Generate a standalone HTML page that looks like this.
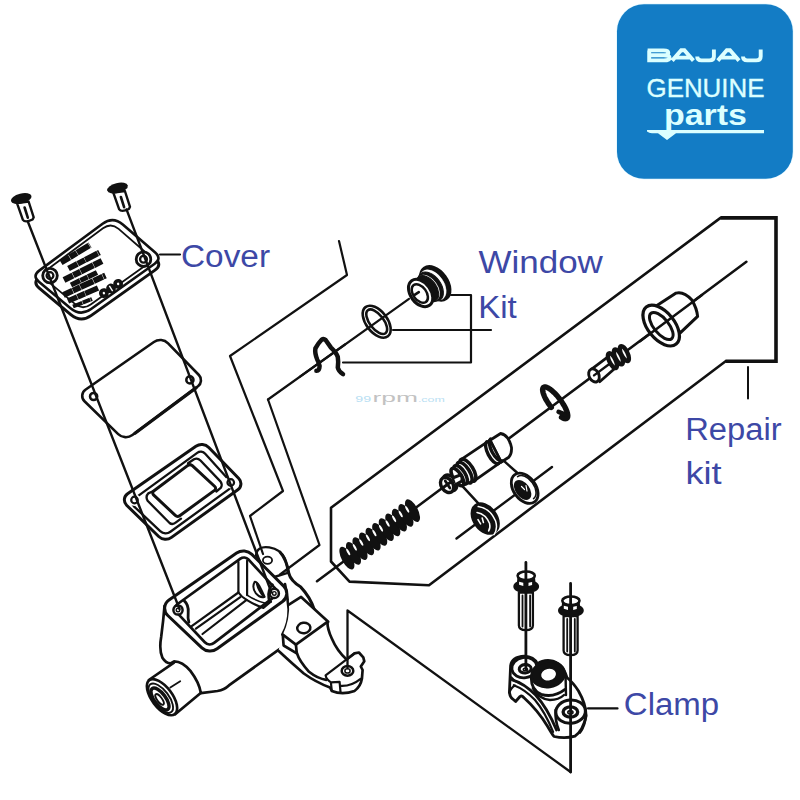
<!DOCTYPE html>
<html><head><meta charset="utf-8"><title>Parts diagram</title>
<style>
html,body{margin:0;padding:0;background:#fff;}
body{width:800px;height:800px;overflow:hidden;font-family:"Liberation Sans",sans-serif;}
svg{display:block;}
.k{stroke:#111;stroke-linecap:round;stroke-linejoin:round;}
.w{fill:#fff;}
.kw{stroke:#fff;stroke-linecap:round;stroke-linejoin:round;}
.b{fill:#111;}
.lbl{font-family:"Liberation Sans",sans-serif;fill:#3d48a6;font-size:31px;}
</style></head><body>
<svg width="800" height="800" viewBox="0 0 800 800" fill="none">
<rect x="0" y="0" width="800" height="800" fill="#ffffff"/>
<g id="logo">
<rect x="616.2" y="3.5" width="177.4" height="176" rx="28" ry="28" fill="#e4f8ff"/>
<rect x="617" y="4.3" width="175.8" height="174.5" rx="27" ry="27" fill="#137cc5"/>
<g fill="#dcffff" font-family="Liberation Sans, sans-serif">
<path d="M647.6,50.4 L663.5,50.4 Q668.3,50.4 668.3,52.9 Q668.3,55.3 663.5,55.3 L650,55.3 M663.8,55.3 Q669.6,55.3 669.6,57.9 Q669.6,60.4 663.8,60.4 L649.2,60.4 L649.2,50.4 M672.2,60.6 L681.2,50.3 L684.4,50.3 L693.4,60.6 M675.8000000000001,57.6 L689.8000000000001,57.6 M697.1999999999999,56.6 Q697.1999999999999,60.4 701.4,60.4 L709.4,60.4 Q713.9,60.4 713.9,56.4 L713.9,49.4 M717.8000000000001,60.6 L726.8000000000001,50.3 L730.0,50.3 L739.0,60.6 M721.4000000000001,57.6 L735.4000000000001,57.6 M743.0,56.6 Q743.0,60.4 747.2,60.4 L756.2,60.4 Q760.7,60.4 760.7,56.4 L760.7,49.4" fill="none" stroke="#dcffff" stroke-width="3.9" stroke-linejoin="miter" stroke-linecap="butt"/>
<text x="646.5" y="96.8" font-size="25.2" textLength="118" lengthAdjust="spacingAndGlyphs" stroke="#dcffff" stroke-width="0.35">GENUINE</text>
<text x="664" y="124.7" font-size="29.5" font-weight="bold" textLength="83" lengthAdjust="spacingAndGlyphs">parts</text>
<path d="M647,130 L764,130 L764,133.3 L676,133.3 L667,140 L658,133.3 L652,133.3 Q649,133.3 647,131.5 Z"/>
</g>

</g>
<g id="labels">
<g class="lbl">
<text x="181" y="266.6" textLength="89" lengthAdjust="spacingAndGlyphs">Cover</text>
<text x="478.4" y="272.8" textLength="124.5" lengthAdjust="spacingAndGlyphs">Window</text>
<text x="478.2" y="317.8" textLength="38.6" lengthAdjust="spacingAndGlyphs">Kit</text>
<text x="685.2" y="439.8" textLength="96.4" lengthAdjust="spacingAndGlyphs">Repair</text>
<text x="685.4" y="483.8" textLength="36.2" lengthAdjust="spacingAndGlyphs">kit</text>
<text x="623.8" y="715.2" textLength="95.4" lengthAdjust="spacingAndGlyphs">Clamp</text>
</g>
<g font-family="Liberation Sans, sans-serif">
<text x="355.3" y="401.5" fill="#b9e0f3" textLength="15.8" lengthAdjust="spacingAndGlyphs" font-size="8.6">99</text>
<text x="372.5" y="401.5" fill="#c2c2c2" textLength="45.4" lengthAdjust="spacingAndGlyphs" font-size="13.5">rpm</text>
<text x="417.9" y="401.5" fill="#b9e0f3" textLength="26.8" lengthAdjust="spacingAndGlyphs" font-size="7">.com</text>
</g>

</g>
<g id="cover">
<path d="M39.2,288.2 Q32.3,282.4 39.5,277.0 L102.9,230.1 Q113.3,222.4 123.1,230.9 L155.5,259.0 Q162.3,264.9 155.0,270.1 L91.4,315.4 Q80.8,322.9 70.8,314.6 Z" class="k" stroke-width="3.0" fill="#fff" />
<path d="M38.9,281.8 Q32.0,276.0 39.2,270.6 L102.6,223.7 Q113.0,216.0 122.8,224.5 L155.2,252.6 Q162.0,258.5 154.7,263.7 L91.1,309.0 Q80.5,316.5 70.5,308.2 Z" class="k" stroke-width="2.6" fill="#fff" />
<path d="M45.5,279.4 Q40.1,274.9 45.7,270.7 L103.0,228.3 Q111.0,222.4 118.6,228.9 L148.6,255.0 Q153.9,259.6 148.2,263.6 L90.7,304.5 Q82.6,310.3 74.9,303.9 Z" class="k" stroke-width="1.8" />
<circle cx="50" cy="275.6" r="7.3" class="k" stroke-width="2.8" fill="#fff"/>
<circle cx="50" cy="275.6" r="3.4" class="k" stroke-width="2.3"/>
<circle cx="143.5" cy="259.2" r="7.3" class="k" stroke-width="2.8" fill="#fff"/>
<circle cx="143.5" cy="259.2" r="3.4" class="k" stroke-width="2.3"/>
<path d="M61,262.5 L90,245" stroke="#111" stroke-width="6.0" stroke-dasharray="10 0.45 8 0.4 14 0.45" fill="none"/>
<path d="M68.5,268.5 L99.5,252.5" stroke="#111" stroke-width="5.8" stroke-dasharray="10 0.45 8 0.4 14 0.45" fill="none"/>
<path d="M64,280 L102,261" stroke="#111" stroke-width="6.2" stroke-dasharray="10 0.45 8 0.4 14 0.45" fill="none"/>
<path d="M71,285 L97,272.5" stroke="#111" stroke-width="5.2" stroke-dasharray="10 0.45 8 0.4 14 0.45" fill="none"/>
<path d="M63.5,295 L105.5,275.5" stroke="#111" stroke-width="6.0" stroke-dasharray="10 0.45 8 0.4 14 0.45" fill="none"/>
<path d="M68,301 L98,288" stroke="#111" stroke-width="5.6" stroke-dasharray="10 0.45 8 0.4 14 0.45" fill="none"/>
<path d="M73,306.5 L92,299" stroke="#111" stroke-width="4.0" stroke-dasharray="10 0.45 8 0.4 14 0.45" fill="none"/>
<g transform="rotate(-33 111 288.5)"><circle cx="102.5" cy="288.5" r="4.9" class="b"/><circle cx="111" cy="288.5" r="4.9" class="b"/><circle cx="119.5" cy="288.5" r="4.9" class="b"/><circle cx="102.5" cy="288.5" r="1.2" fill="#fff"/><circle cx="119.5" cy="288.5" r="1.2" fill="#fff"/><rect x="110.3" y="285.5" width="1.4" height="6" fill="#fff"/></g>
<g transform="translate(21.2 198.5)"><path d="M-4.2,4.6 L1.7,21.4 Q4,24.6 11.4,21 L12.5,18.8 L7.4,3 Z" class="k" stroke-width="2.4" fill="#fff"/><path d="M3.4,9 L6.6,19.2" class="k" stroke-width="2.6"/><ellipse cx="0" cy="0" rx="10.6" ry="4.9" transform="rotate(-14)" class="b"/></g>
<g transform="translate(117.5 188)"><path d="M-4.2,4.6 L1.7,21.4 Q4,24.6 11.4,21 L12.5,18.8 L7.4,3 Z" class="k" stroke-width="2.4" fill="#fff"/><path d="M3.4,9 L6.6,19.2" class="k" stroke-width="2.6"/><ellipse cx="0" cy="0" rx="10.6" ry="4.9" transform="rotate(-14)" class="b"/></g>
</g>
<g id="gasket">
<path d="M84.5,401.3 A7.5,7.5 0 0 1 85.4,389.8 L153.9,342.0 A11.0,11.0 0 0 1 168.1,343.3 L198.9,375.0 A7.5,7.5 0 0 1 198.0,386.2 L132.4,435.0 A11.0,11.0 0 0 1 118.2,434.1 Z" class="k" stroke-width="2.6" fill="#fff" />
<path d="M196,387.9 L135,433.2" class="k" stroke-width="3.3" />
<circle cx="93.6" cy="396.5" r="3.6" class="k" stroke-width="2.5" fill="#fff"/>
<circle cx="189.9" cy="379.9" r="3.6" class="k" stroke-width="2.5" fill="#fff"/>
</g>
<g id="diaphragm">
<path d="M126.6,505.2 A7.5,7.5 0 0 1 127.6,493.7 L195.9,446.2 A10.0,10.0 0 0 1 208.8,447.5 L238.8,478.5 A7.5,7.5 0 0 1 237.8,489.8 L171.5,537.4 A10.0,10.0 0 0 1 158.7,536.5 Z" class="k" stroke-width="3.0" fill="#fff" />
<path d="M133.9,506.3 A5.0,5.0 0 0 1 134.4,498.6 L197.2,452.9 A6.0,6.0 0 0 1 205.2,453.7 L230.3,481.5 A5.0,5.0 0 0 1 229.5,488.9 L170.4,531.7 A8.0,8.0 0 0 1 160.2,531.1 Z" class="k" stroke-width="2.3" />
<path d="M188,463.3 L194,459.2 Q197.5,457.6 200.5,460.5 L220.6,481.6 Q222.6,484.4 221,487.6 L216.3,491.5" class="k" stroke-width="2.3" />
<path d="M153,491.2 L148.3,493.4 Q145.2,496.5 147.6,500.8 L169.6,523 Q172.5,525.4 176.3,522.2 L181,518.6" class="k" stroke-width="2.3" />
<path d="M153.5,494.8 A2.5,2.5 0 0 1 153.7,491.0 L187.9,465.4 A3.5,3.5 0 0 1 192.3,465.7 L214.8,486.5 A2.5,2.5 0 0 1 214.5,490.4 L179.7,515.7 A3.5,3.5 0 0 1 175.3,515.4 Z" class="k" stroke-width="3.0" fill="#fff" />
<circle cx="134.5" cy="500" r="6" class="w" stroke="none"/>
<circle cx="134.5" cy="500" r="3.3" class="k" stroke-width="2.2" fill="#fff"/>
<circle cx="230.75" cy="482.5" r="6" class="w" stroke="none"/>
<circle cx="230.75" cy="482.5" r="3.3" class="k" stroke-width="2.2" fill="#fff"/>
</g>
<g id="body">
<path d="M256.1 555.3 Q257.0 545.6 269.3 547.4 Q280.6 549.1 285.0 558.8 Q287.6 565.8 287.6 572.8 L271.0 578.0 Z" class="k" stroke-width="2.4" fill="#fff" />
<ellipse cx="267.5" cy="560.2" rx="4.6" ry="3.6" class="k" stroke-width="1.8" fill="#fff"/>
<path d="M280.1 552.1 Q287.1 560.5 288.9 573.6 Q290.6 580.6 300.8 587.1 Q310.4 597.3 314.4 609.9" class="k" stroke-width="3.0" />
<path d="M164.5 606.1 Q163.3 621.0 161.2 636.8 Q158.9 649.9 162.4 657.8 Q165.9 663.4 170.6 663.4 L174.1 661.3 Q182.5 661.3 190.4 670.9 Q199.1 682.3 200.9 693.1 L217.5 691.0 Q224.5 689.6 228.9 685.4 L284.0 645.9 L288.4 631.5 L284.0 603.5 L252.5 565.0 L200.0 556.2 Z" fill="#fff" stroke="none"/>
<path d="M164.5 606.1 Q163.3 621.0 161.2 636.8 Q158.9 649.9 162.4 657.8 Q165.9 663.4 170.6 663.4 L174.1 661.3 Q182.5 661.3 190.4 670.9 Q199.1 682.3 200.9 693.1 L217.5 691.0 Q224.5 689.6 228.9 685.4 L283.7 646.2" class="k" stroke-width="2.7" />
<path d="M285.0 584.1 Q287.6 595.5 288.7 609.5 Q288.9 623.5 282.4 634.4" class="k" stroke-width="2.7" />
<path d="M148.8,680 L174,662.6 M175.2,714.2 L201,692.8" class="k" stroke-width="2.7" />
<ellipse cx="162" cy="697.2" rx="21.2" ry="10.2" transform="rotate(53 162 697.2)" class="k" stroke-width="2.7" fill="#fff"/>
<ellipse cx="160.8" cy="698.2" rx="17.4" ry="8" transform="rotate(53 160.8 698.2)" class="k" stroke-width="1.9"/>
<ellipse cx="160" cy="699" rx="13" ry="5.6" transform="rotate(53 160 699)" class="k" stroke-width="3.4"/>
<ellipse cx="159.6" cy="699.4" rx="6.4" ry="2.4" transform="rotate(53 159.6 699.4)" class="k" stroke-width="1.8"/>
<path d="M170.3 687.5 L180.2 681.2" class="k" stroke-width="1.8" />
<path d="M167.8,615.5 A10.0,10.0 0 0 1 169.0,600.0 L236.6,553.1 A12.0,12.0 0 0 1 251.9,554.4 L283.9,586.4 A10.0,10.0 0 0 1 282.6,601.5 L217.1,648.8 A12.0,12.0 0 0 1 201.9,647.8 Z" class="k" stroke-width="3.0" fill="#fff" />
<path d="M176.2,611.9 A5.0,5.0 0 0 1 176.9,604.5 L240.4,558.7 A6.0,6.0 0 0 1 248.4,559.4 L275.6,588.9 A5.0,5.0 0 0 1 274.9,596.3 L214.1,642.9 A7.0,7.0 0 0 1 204.8,642.2 Z" class="k" stroke-width="2.7" fill="#fff" />
<path d="M238.4 561.9 L238.4 592.5 M247.1 560.7 L247.1 595.1" class="k" stroke-width="2.2" />
<path d="M238.4 592.5 L191.7 626.1 M240.3 597.1 L195.9 628.7 M246.6 599.9 L202.5 634.0" class="k" stroke-width="2.2" />
<path d="M238.4 592.5 Q241.0 596.4 246.6 599.9 Q255.0 605.1 263.4 607.9 L270.8 601.6" class="k" stroke-width="2.2" />
<path d="M247.1 595.1 Q255.0 600.4 264.6 603.0" class="k" stroke-width="1.6" />
<path d="M254.7 581.7 Q251.5 587.3 255.9 593.4 Q260.3 598.6 264.6 596.9 Q262.0 590.8 259.4 585.9 Q257.1 581.7 254.7 581.7 Z" class="k" stroke-width="2.0" fill="#fff" />
<path d="M257.1 583.8 Q258.9 590.8 263.8 596.4" class="k" stroke-width="2.6" />
<path d="M184.3 600.9 Q188.9 605.1 188.2 612.6 Q187.6 618.8 188.9 622.3" class="k" stroke-width="2.8" />
<path d="M272.5 584.6 Q267.6 589.9 268.7 597.8 Q269.0 601.3 270.8 601.6" class="k" stroke-width="2.6" />
<circle cx="178.0" cy="610.0" r="4.6" class="k" stroke-width="2.5" fill="#fff"/>
<circle cx="178.0" cy="610.0" r="1.8" class="k" stroke-width="1.4"/>
<circle cx="274.3" cy="593.4" r="4.6" class="k" stroke-width="2.5" fill="#fff"/>
<circle cx="274.3" cy="593.4" r="1.8" class="k" stroke-width="1.4"/>
<path d="M278.4 650.8 Q291.5 663.0 303.8 673.5 Q316.0 682.3 330.0 687.5 L331.8 691.0 Q342.3 695.4 354.5 691.0 Q360.6 686.6 361.9 678.8 L362.6 670.0 L360.8 666.5 L364.3 661.3 L363.3 657.4 L358.9 652.5 L354.5 653.4 L346.6 659.5 Q337.0 650.8 331.8 638.5 Q327.4 628.9 327.4 621.9 L295.9 644.6 L282.8 635.0 Z" fill="#fff" stroke="none"/>
<path d="M278.4 650.8 Q291.5 663.0 303.8 673.5 Q316.0 682.3 330.0 687.5 L331.8 691.0 Q342.3 695.4 354.5 691.0 Q360.6 686.6 361.9 678.8 L362.6 670.0 L360.8 666.5 L364.3 661.3 L363.3 657.4 L358.9 652.5 L354.5 653.4 L346.6 659.5 Q337.0 650.8 331.8 638.5 Q327.4 628.9 327.4 621.9" class="k" stroke-width="2.7" />
<path d="M288.9 600.0 Q289.8 610.5 288.0 619.3 Q286.3 628.0 282.8 634.7 L295.9 644.6 L327.4 621.9 L300.3 596.5 Z" fill="#fff" stroke="none"/>
<path d="M282.8 634.7 L295.9 644.6 L327.4 621.9" class="k" stroke-width="2.7" />
<path d="M288.9 604.6 L301.1 596.9 L328.2 621.8" class="k" stroke-width="2.7" />
<ellipse cx="303.8" cy="628.0" rx="6.6" ry="5.2" transform="rotate(-8 303.8 628.0)" class="k" stroke-width="2.5" fill="#fff"/>
<path d="M282.8 635.0 L283.6 645.5 L296.8 653.4 L295.9 644.6" class="k" stroke-width="2.7" />
<path d="M296.8 652.9 Q299.4 661.3 309.0 671.8 Q317.8 678.8 326.2 679.8" class="k" stroke-width="2.7" />
<path d="M325.6 675.3 L354.5 653.4 M325.6 675.3 Q326.2 679.1 330.9 682.3 L339.6 681.9 L340.5 691.9 M330.9 682.3 L331.8 691.0 M340.2 685.8 Q351.0 686.6 360.6 678.8" class="k" stroke-width="2.2" />
<ellipse cx="347.5" cy="670.9" rx="5.8" ry="4.8" class="k" stroke-width="2.5" fill="#fff"/>
<ellipse cx="347.5" cy="670.9" rx="2.6" ry="2.1" class="k" stroke-width="1.5"/>
</g>
<g id="lines">
<g class="k" stroke-width="2.2">
<!-- leader lines -->
<path d="M160,254.5 L180,254.5"/>
<path d="M588,708.4 L617.5,708.4"/>
<path d="M748,367 L748,398.5" stroke-width="2"/>
<!-- window kit bracket -->
<path d="M451,295 L471,295 L471,362.5 L343,362.5"/>
<path d="M393,330 L491,330"/>
<!-- repair kit polygon -->
<path d="M720.5,217.9 L331,507.7 L331,561.5 L349.5,581.6 L429,585.2 L725.6,361.2" stroke-width="2.6"/>
<path d="M720.5,217.9 L776,217.9 L776,361.2 L725.6,361.2" stroke-width="3.6" stroke-linecap="butt" stroke-linejoin="miter"/>
<!-- repair kit axis -->
<path d="M317,581.2 L746.4,261.8" stroke-width="2.5"/>
<!-- secondary axis -->
<path d="M456.5,538.5 L552,467" stroke-width="2.4"/>
<!-- window kit axis B -->
<path d="M268,399.5 L319.5,545 L280,574.5" />
<!-- line A -->
<path d="M339,241 L347,275 L230,356 L283,491 L250,516 L263,554"/>
<!-- long lines -->
<path d="M28,222 L179.5,609" stroke-width="2.4"/>
<path d="M126.5,209.4 L271.5,592.5" stroke-width="2.4"/>
<!-- clamp callout -->
<path d="M347.5,668 L347.5,610.5 L570.6,772" stroke-width="2.3"/>

</g>

</g>
<g id="windowkit">
<ellipse cx="435.2" cy="283.4" rx="19.3" ry="12.6" transform="rotate(54 435.2 283.4)" class="k" stroke-width="2" fill="#111" />
<ellipse cx="432.9" cy="285.0" rx="17.0" ry="10.8" transform="rotate(54 432.9 285.0)" class="kw" stroke-width="0.5" fill="#fff" />
<ellipse cx="430.6" cy="286.6" rx="16.4" ry="10.4" transform="rotate(54 430.6 286.6)" class="k" stroke-width="1.0" fill="#111" />
<ellipse cx="428.4" cy="288.0" rx="14.6" ry="9.0" transform="rotate(54 428.4 288.0)" class="kw" stroke-width="0.5" fill="#fff" />
<ellipse cx="427.2" cy="288.8" rx="14.8" ry="9.4" transform="rotate(54 427.2 288.8)" class="k" stroke-width="1.0" fill="#111" />
<ellipse cx="420.6" cy="293.0" rx="15.2" ry="10.2" transform="rotate(54 420.6 293.0)" class="k" stroke-width="3.0" fill="#fff" />
<ellipse cx="419.8" cy="293.5" rx="10.4" ry="6.6" transform="rotate(54 419.8 293.5)" class="k" stroke-width="2.5" fill="#fff" />
<path d="M414.6,294.8 L418.8,292.2" class="k" stroke-width="2.6" />
<ellipse cx="376.7" cy="321.7" rx="18.4" ry="10.6" transform="rotate(52.5 376.7 321.7)" class="k" stroke-width="2.6" fill="#fff" />
<ellipse cx="376.7" cy="321.7" rx="14.5" ry="7.0" transform="rotate(52.5 376.7 321.7)" class="k" stroke-width="2.6" fill="#fff" />
<path d="M409,298.8 L268,399.5" class="k" stroke-width="2.2" />
<path d="M316.4,370.8 Q319.4,371 319.6,366 Q318.6,362 317.2,359.5 Q314.6,353 315.4,348.4 Q318,343.5 321.6,339.8 Q323.6,338.2 325.6,340 L331,347.6 Q336.6,353 337.8,357 Q338.6,362 337.8,367.6 Q338.6,371.4 343,374.2" class="k" stroke-width="4.5" />
<path d="M300,376.65 L345,344.5" class="k" stroke-width="2.2" />
</g>
<g id="repairkit">
<ellipse cx="346.9" cy="558.1" rx="12.6" ry="5.3" transform="rotate(62 346.9 558.1)" fill="#111"/>
<ellipse cx="353.5" cy="553.4" rx="12.6" ry="5.3" transform="rotate(62 353.5 553.4)" fill="#111"/>
<ellipse cx="360.0" cy="548.6" rx="12.6" ry="5.3" transform="rotate(62 360.0 548.6)" fill="#111"/>
<ellipse cx="366.6" cy="543.9" rx="12.6" ry="5.3" transform="rotate(62 366.6 543.9)" fill="#111"/>
<ellipse cx="373.1" cy="539.1" rx="12.6" ry="5.3" transform="rotate(62 373.1 539.1)" fill="#111"/>
<ellipse cx="379.7" cy="534.4" rx="12.6" ry="5.3" transform="rotate(62 379.7 534.4)" fill="#111"/>
<ellipse cx="386.3" cy="529.6" rx="12.6" ry="5.3" transform="rotate(62 386.3 529.6)" fill="#111"/>
<ellipse cx="392.8" cy="524.9" rx="12.6" ry="5.3" transform="rotate(62 392.8 524.9)" fill="#111"/>
<ellipse cx="399.4" cy="520.1" rx="12.6" ry="5.3" transform="rotate(62 399.4 520.1)" fill="#111"/>
<ellipse cx="405.9" cy="515.4" rx="12.6" ry="5.3" transform="rotate(62 405.9 515.4)" fill="#111"/>
<ellipse cx="412.5" cy="510.6" rx="12.6" ry="5.3" transform="rotate(62 412.5 510.6)" fill="#111"/>
<ellipse cx="348.2" cy="552.0" rx="3.7" ry="1.15" transform="rotate(62 348.2 552.0)" fill="#fff"/>
<ellipse cx="354.8" cy="547.3" rx="3.7" ry="1.15" transform="rotate(62 354.8 547.3)" fill="#fff"/>
<ellipse cx="361.3" cy="542.5" rx="3.7" ry="1.15" transform="rotate(62 361.3 542.5)" fill="#fff"/>
<ellipse cx="367.9" cy="537.8" rx="3.7" ry="1.15" transform="rotate(62 367.9 537.8)" fill="#fff"/>
<ellipse cx="374.4" cy="533.0" rx="3.7" ry="1.15" transform="rotate(62 374.4 533.0)" fill="#fff"/>
<ellipse cx="381.0" cy="528.3" rx="3.7" ry="1.15" transform="rotate(62 381.0 528.3)" fill="#fff"/>
<ellipse cx="387.6" cy="523.5" rx="3.7" ry="1.15" transform="rotate(62 387.6 523.5)" fill="#fff"/>
<ellipse cx="394.1" cy="518.8" rx="3.7" ry="1.15" transform="rotate(62 394.1 518.8)" fill="#fff"/>
<ellipse cx="400.7" cy="514.0" rx="3.7" ry="1.15" transform="rotate(62 400.7 514.0)" fill="#fff"/>
<ellipse cx="407.2" cy="509.3" rx="3.7" ry="1.15" transform="rotate(62 407.2 509.3)" fill="#fff"/>
<ellipse cx="449.9" cy="482.9" rx="8.6" ry="6.0" transform="rotate(56 449.9 482.9)" class="k" stroke-width="3.4" fill="#fff" />
<ellipse cx="447.1" cy="485.0" rx="8.2" ry="5.8" transform="rotate(56 447.1 485.0)" class="k" stroke-width="3.4" fill="#fff" />
<path d="M443.9,487.0 L450.9,482.0 M445.3,481.0 L449.9,488.0" class="k" stroke-width="2.8" />
<path d="M453.8 478.1 L461.9 472.5 L465.6 479.4 L458.1 485.0 Z" class="k" stroke-width="2.4" fill="#fff" />
<path d="M490.0 440.2 L500.6 433.5 Q508.8 435.0 511.5 447.5 Q511.9 453.8 508.8 457.2 L501.0 462.2 Z" class="k" stroke-width="2.8" fill="#fff" />
<path d="M460.6 459.8 L490.0 440.2 L501.2 461.9 L475.2 480.2 Z" class="k" stroke-width="2.8" fill="#fff" />
<path d="M490.6,439.1 A12.4,5.2 62 0 0 502.2,460.9" class="k" stroke-width="3.4"/>
<path d="M486.8,441.8 A12.4,5.2 62 0 0 498.4,463.6" class="k" stroke-width="3.4"/>
<ellipse cx="467.8" cy="470.2" rx="12.6" ry="5.4" transform="rotate(58 467.8 470.2)" class="k" stroke-width="3.6" fill="#fff" />
<ellipse cx="464.6" cy="472.6" rx="11.8" ry="5.0" transform="rotate(58 464.6 472.6)" class="k" stroke-width="3.6" fill="#fff" />
<ellipse cx="460.6" cy="474.8" rx="10.6" ry="4.6" transform="rotate(58 460.6 474.8)" class="k" stroke-width="3.6" fill="#fff" />
<ellipse cx="457.4" cy="477.0" rx="10.0" ry="4.2" transform="rotate(58 457.4 477.0)" class="k" stroke-width="3.6" fill="#fff" />
<path d="M453.8 477.5 L460.6 474.8 Q462.8 476.9 461.9 481.0 L456.2 484.4" class="k" stroke-width="3.0" fill="#fff" />
<path d="M463.1,486.9 L478.8,503.8 M505,461.9 L516.9,472.5" class="k" stroke-width="2.5" />
<ellipse cx="524.7" cy="488.3" rx="16.8" ry="11.2" transform="rotate(54 524.7 488.3)" class="k" stroke-width="2.8" fill="#fff" />
<ellipse cx="522.6" cy="489.9" rx="10.2" ry="6.0" transform="rotate(54 522.6 489.9)" class="k" stroke-width="2.0" fill="#111" />
<path d="M517.6,476.6 A13.6,8.4 54 0 1 533.6,498.6" class="k" stroke-width="1.6"/>
<path d="M521.5,486.5 L524.5,489.5 M526,485.5 L527,491" class="kw" stroke-width="1.2" />
<ellipse cx="485.2" cy="518.6" rx="16.6" ry="11.4" transform="rotate(54 485.2 518.6)" class="k" stroke-width="2.4" fill="#111" />
<path d="M478.2,506.6 Q490,508 495.6,521 Q498,529 494,534.6" class="kw" stroke-width="1.5"/>
<path d="M477,512.4 Q486,514 489.6,523.6 Q490.6,528 488.6,531" class="kw" stroke-width="1.5"/>
<path d="M478,519.6 L480.6,523.8 M482.2,518 L483.4,522.4" class="kw" stroke-width="1.6" />
<path d="M551.3,407.4 L550.1,405.8 L548.9,404.2 L547.8,402.5 L546.8,400.8 L545.8,399.2 L545.0,397.6 L544.3,396.1 L543.7,394.6 L543.2,393.2 L542.9,391.9 L542.7,390.8 L542.6,389.8 L542.7,388.9 L542.9,388.2 L543.2,387.6 L543.7,387.2 L544.3,387.0 L545.0,386.9 L545.8,387.0 L546.8,387.3 L547.8,387.8 L548.9,388.4 L550.1,389.2 L551.3,390.1 L552.6,391.2 L553.9,392.4 L555.2,393.7 L556.5,395.1 L557.8,396.6 L559.1,398.2 L560.3,399.8 L561.5,401.4 L562.6,403.1 L563.6,404.8 L564.6,406.4 L565.4,408.0 L566.1,409.5 L566.7,411.0 L567.2,412.4 L567.5,413.7 L567.7,414.8 L567.8,415.8 L567.7,416.7 L567.5,417.4 L567.2,418.0 L566.7,418.4 L566.1,418.6 L565.4,418.7 L564.6,418.6 L563.6,418.3 L562.6,417.8 L561.5,417.2" class="k" stroke-width="5.4" />
<path d="M564.2,414.2 L558.6,411.8" class="k" stroke-width="4.6" />
<path d="M591.3 369.4 L607.9 356.9 L615.3 368.0 L599.7 381.7 Z" class="k" stroke-width="2.8" fill="#fff" />
<ellipse cx="594.0" cy="375.4" rx="6.9" ry="4.9" transform="rotate(64 594.0 375.4)" class="k" stroke-width="2.9" fill="#fff" />
<path d="M594.0 375.4 L610.0 363.5" class="k" stroke-width="2.4" />
<ellipse cx="612.4" cy="360.7" rx="8.2" ry="3.1" transform="rotate(64 612.4 360.7)" class="k" stroke-width="4.3" fill="#fff" />
<ellipse cx="618.4" cy="356.9" rx="8.2" ry="3.1" transform="rotate(64 618.4 356.9)" class="k" stroke-width="4.3" fill="#fff" />
<ellipse cx="624.4" cy="353.6" rx="8.2" ry="3.1" transform="rotate(64 624.4 353.6)" class="k" stroke-width="4.3" fill="#fff" />
<path d="M656.9 305.5 L676.1 293.1 Q684.0 291.2 691.9 300.1 Q696.7 308.0 697.6 316.3 L680.5 332.7 Z" class="k" stroke-width="3.0" fill="#fff" />
<ellipse cx="661.2" cy="325.6" rx="23.8" ry="13.4" transform="rotate(51 661.2 325.6)" class="k" stroke-width="3.2" fill="#fff" />
<ellipse cx="661.3" cy="326.0" rx="16.4" ry="7.4" transform="rotate(51 661.3 326.0)" class="k" stroke-width="3.0" fill="#fff" />
<path d="M640,341.2 L702,295" class="k" stroke-width="2.5" />
</g>
<g id="clamp">
<path d="M510.6 665.6 Q511.9 656.9 524.4 656.2 Q533.8 656.5 537.5 663.8 Q542.5 660.0 550.0 660.6 Q562.5 661.9 566.9 677.5 Q573.1 682.5 578.5 691.0 Q586.5 705.0 586.0 716.5 Q583.1 730.2 575.0 736.2 Q565.0 739.0 554.0 736.5 Q551.9 733.8 547.5 726.2 Q537.5 710.0 524.0 697.8 Q521.9 695.0 520.0 696.5 L515.6 701.5 L512.5 698.8 Q510.0 696.9 509.4 692.5 Z" class="k" stroke-width="2.8" fill="#fff" />
<path d="M512.2 679.8 Q523.8 683.1 535.6 695.0 Q547.5 708.1 556.5 730.0" class="k" stroke-width="2.8" />
<path d="M513.8 685.2 Q525.0 689.4 535.0 700.0 Q545.0 711.9 553.1 731.9" class="k" stroke-width="2.2" />
<path d="M511.5 677.5 Q513.8 681.2 518.8 682.5 M509.4 692.5 Q511.2 687.5 515.0 685.6" class="k" stroke-width="2.2" />
<path d="M531.2 677.5 Q531.2 690.0 541.2 694.4 Q553.8 698.1 565.0 689.4" class="k" stroke-width="2.8" />
<path d="M532.8 688.1 Q537.5 698.8 550.0 700.0 Q558.8 700.0 564.0 695.0" class="k" stroke-width="2.4" />
<path d="M565.6 677.5 L566.0 695.0" class="k" stroke-width="2.4" />
<ellipse cx="524.4" cy="667.6" rx="12.6" ry="10.2" transform="rotate(-8 524.4 667.6)" class="k" stroke-width="2.8" fill="#fff" />
<ellipse cx="525.2" cy="668.8" rx="6.0" ry="4.2" transform="rotate(-5 525.2 668.8)" class="k" stroke-width="3.0" fill="#fff" />
<ellipse cx="525.4" cy="669.4" rx="2.2" ry="1.3" transform="rotate(0 525.4 669.4)" class="k" stroke-width="1.4" fill="#fff" />
<ellipse cx="548.1" cy="674.4" rx="16.6" ry="12.8" transform="rotate(-8 548.1 674.4)" class="k" stroke-width="2.4" fill="#111" />
<ellipse cx="548.6" cy="674.6" rx="8.2" ry="6.6" transform="rotate(-12 548.6 674.6)" class="k" stroke-width="1.5" fill="#fff" />
<path d="M555.6 710.0 Q555.0 721.2 558.8 730.0 M586.0 715.0 Q585.0 726.2 580.0 732.5" class="k" stroke-width="2.6" />
<ellipse cx="570.6" cy="711.6" rx="14.8" ry="11.6" transform="rotate(-5 570.6 711.6)" class="k" stroke-width="3.0" fill="#fff" />
<ellipse cx="570.4" cy="712" rx="7.3" ry="5.2" transform="rotate(0 570.4 712)" class="k" stroke-width="3.3" fill="#fff" />
<ellipse cx="570.4" cy="712.3" rx="2.6" ry="1.7" transform="rotate(0 570.4 712.3)" class="k" stroke-width="1.6" fill="#fff" />
<path d="M518.9,592.5 L518.9,625.5 Q518.9,630.1 525.9,630.1 Q532.9,630.1 532.9,625.5 L532.9,592.5 Z" class="k" stroke-width="2.3" fill="#fff" />
<path d="M522.5,595.5 L522.5,626.5 M530.1,595.5 L530.1,626.5" class="k" stroke-width="1.8" />
<ellipse cx="526.1999999999999" cy="586.4" rx="11.9" ry="5.8" transform="rotate(0 526.1999999999999 586.4)" class="k" stroke-width="2.0" fill="#111" />
<path d="M516.9,583.4 L517.5,575.8 L534.9,575.8 L535.5,583.4 Z" fill="#111"/>
<path d="M519.1,581.8 L523.3,582.8 L523.3,586.0 L519.1,584.8 Z" fill="#fff"/>
<path d="M528.5,582.8 L532.1,582.0 L532.1,585.0 L528.5,586.0 Z" fill="#fff"/>
<ellipse cx="526.1999999999999" cy="575.8" rx="8.6" ry="4.3" transform="rotate(0 526.1999999999999 575.8)" class="k" stroke-width="2.6" fill="#fff" />
<path d="M563.6,616 L563.6,650.5 Q563.6,655.1 570.6,655.1 Q577.6,655.1 577.6,650.5 L577.6,616 Z" class="k" stroke-width="2.3" fill="#fff" />
<path d="M567.2,619 L567.2,651.5 M574.8000000000001,619 L574.8000000000001,651.5" class="k" stroke-width="1.8" />
<ellipse cx="570.9" cy="610.4" rx="11.9" ry="5.8" transform="rotate(0 570.9 610.4)" class="k" stroke-width="2.0" fill="#111" />
<path d="M561.6,607.4 L562.2,600.8 L579.6,600.8 L580.2,607.4 Z" fill="#111"/>
<path d="M563.8000000000001,605.8 L568.0,606.8 L568.0,610.0 L563.8000000000001,608.8 Z" fill="#fff"/>
<path d="M573.2,606.8 L576.8000000000001,606.0 L576.8000000000001,609.0 L573.2,610.0 Z" fill="#fff"/>
<ellipse cx="570.9" cy="600.8" rx="8.6" ry="4.3" transform="rotate(0 570.9 600.8)" class="k" stroke-width="2.6" fill="#fff" />
<path d="M525.9,562.5 L525.9,669.5" class="k" stroke-width="2.8" />
<path d="M570.6,583.5 L570.6,772" class="k" stroke-width="2.8" />
</g>
</svg>
</body></html>
